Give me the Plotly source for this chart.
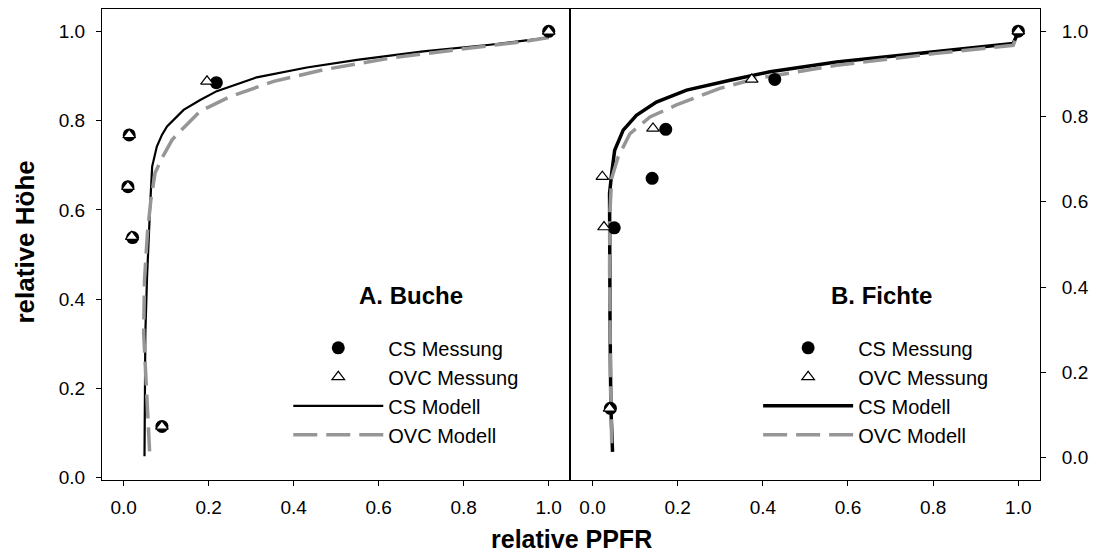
import plotly.graph_objects as go

# ---------------- data ----------------
# Panel A: Buche
buche_cs_meas_x = [0.013, 0.010, 0.021, 0.090, 0.218, 1.0]
buche_cs_meas_y = [0.768, 0.652, 0.538, 0.115, 0.885, 1.0]
buche_ovc_meas_x = [0.013, 0.010, 0.019, 0.090, 0.196, 1.0]
buche_ovc_meas_y = [0.768, 0.652, 0.540, 0.115, 0.888, 1.0]

buche_cs_mod_x = [0.049, 0.051, 0.055, 0.059, 0.063, 0.067, 0.078, 0.090, 0.102, 0.141,
                  0.180, 0.219, 0.313, 0.431, 0.549, 0.705, 0.862, 1.0]
buche_cs_mod_y = [0.048, 0.324, 0.450, 0.548, 0.623, 0.697, 0.742, 0.768, 0.787, 0.824,
                  0.846, 0.866, 0.897, 0.919, 0.936, 0.955, 0.970, 0.986]
buche_ovc_mod_x = [0.061, 0.055, 0.050, 0.047, 0.049, 0.056, 0.064, 0.074, 0.090, 0.114,
                   0.133, 0.180, 0.251, 0.353, 0.470, 0.627, 0.784, 0.940, 1.0]
buche_ovc_mod_y = [0.059, 0.175, 0.250, 0.325, 0.443, 0.549, 0.623, 0.683, 0.716, 0.757,
                   0.776, 0.821, 0.854, 0.888, 0.914, 0.940, 0.959, 0.977, 0.986]

# Panel B: Fichte
fichte_cs_meas_x = [0.428, 0.172, 0.140, 0.051, 0.042, 1.0]
fichte_cs_meas_y = [0.887, 0.770, 0.655, 0.539, 0.116, 1.0]
fichte_ovc_meas_x = [0.374, 0.142, 0.023, 0.027, 0.040, 1.0]
fichte_ovc_meas_y = [0.887, 0.772, 0.659, 0.541, 0.116, 1.0]

fichte_cs_mod_x = [0.047, 0.043, 0.041, 0.039, 0.040, 0.045, 0.052, 0.072, 0.103, 0.150,
                   0.221, 0.323, 0.417, 0.573, 0.730, 0.887, 0.988, 1.0]
fichte_cs_mod_y = [0.014, 0.120, 0.330, 0.541, 0.620, 0.667, 0.721, 0.768, 0.803, 0.834,
                   0.862, 0.885, 0.905, 0.928, 0.944, 0.959, 0.971, 0.998]
fichte_ovc_mod_x = [0.045, 0.042, 0.040, 0.041, 0.045, 0.060, 0.088, 0.135, 0.197, 0.299,
                    0.385, 0.573, 0.808, 0.988, 1.0]
fichte_ovc_mod_y = [0.034, 0.200, 0.450, 0.580, 0.655, 0.705, 0.760, 0.799, 0.827, 0.866,
                    0.889, 0.920, 0.948, 0.967, 0.998]

tick_vals = [0.0, 0.2, 0.4, 0.6, 0.8, 1.0]
tick_text = ["0.0", "0.2", "0.4", "0.6", "0.8", "1.0"]
series_names = ["CS Messung", "OVC Messung", "CS Modell", "OVC Modell"]
panel_labels = ["A. Buche", "B. Fichte"]
x_title = "relative PPFR"
y_title = "relative Höhe"

# ---------------- styling ----------------
FONT = "Liberation Sans, Arial, sans-serif"
GRAY = "rgb(150,150,150)"
DASH = "24px,9px"

fig = go.Figure()


def add_panel(xa, ya, leg, cs_mx, cs_my, ovc_mx, ovc_my, cs_lx, cs_ly, ovc_lx, ovc_ly, cs_w):
    fig.add_trace(go.Scatter(x=cs_lx, y=cs_ly, mode="lines", name=series_names[2],
                             line=dict(color="black", width=cs_w),
                             xaxis=xa, yaxis=ya, legend=leg, legendrank=3))
    fig.add_trace(go.Scatter(x=ovc_lx, y=ovc_ly, mode="lines", name=series_names[3],
                             line=dict(color=GRAY, width=3.5, dash=DASH),
                             xaxis=xa, yaxis=ya, legend=leg, legendrank=4))
    fig.add_trace(go.Scatter(x=cs_mx, y=cs_my, mode="markers", name=series_names[0],
                             marker=dict(symbol="circle", size=13, color="black"),
                             xaxis=xa, yaxis=ya, legend=leg, legendrank=1))
    fig.add_trace(go.Scatter(x=ovc_mx, y=ovc_my, mode="markers", name=series_names[1],
                             marker=dict(symbol="triangle-up", size=11, color="white",
                                         line=dict(color="black", width=1.2)),
                             xaxis=xa, yaxis=ya, legend=leg, legendrank=2))


add_panel("x", "y", "legend", buche_cs_meas_x, buche_cs_meas_y, buche_ovc_meas_x, buche_ovc_meas_y,
          buche_cs_mod_x, buche_cs_mod_y, buche_ovc_mod_x, buche_ovc_mod_y, 2.2)
add_panel("x2", "y2", "legend2", fichte_cs_meas_x, fichte_cs_meas_y, fichte_ovc_meas_x, fichte_ovc_meas_y,
          fichte_cs_mod_x, fichte_cs_mod_y, fichte_ovc_mod_x, fichte_ovc_mod_y, 3.5)

split = 0.4989
axis_common = dict(showgrid=False, zeroline=False, showline=True, linecolor="black", linewidth=1,
                   mirror=True, ticks="outside", ticklen=5, tickwidth=1, tickcolor="black",
                   tickvals=tick_vals, ticktext=tick_text, automargin=False,
                   tickfont=dict(family=FONT, size=19, color="black"))

legend_common = dict(font=dict(family=FONT, size=20, color="black"), bgcolor="rgba(0,0,0,0)",
                     borderwidth=0, itemwidth=90, tracegroupgap=0, xanchor="left", yanchor="top",
                     itemclick=False)

fig.update_layout(
    width=1096, height=554, autosize=False,
    margin=dict(l=102, r=56, t=9, b=74, autoexpand=False),
    paper_bgcolor="white", plot_bgcolor="white",
    font=dict(family=FONT, color="black"),
    xaxis=dict(domain=[0, split], range=[-0.051, 1.05], anchor="y", ticklabelstandoff=5,
               **axis_common),
    yaxis=dict(domain=[0, 1], range=[-0.005, 1.05], anchor="x", side="left",
               ticklabelstandoff=7, **axis_common),
    xaxis2=dict(domain=[split, 1], range=[-0.053, 1.051], anchor="y2", ticklabelstandoff=5,
                **axis_common),
    yaxis2=dict(domain=[0, 1], range=[-0.052, 1.052], anchor="x2", side="right",
                ticklabelstandoff=12, **axis_common),
    legend=dict(x=0.1986, y=0.322, **legend_common),
    legend2=dict(x=0.6995, y=0.322, **legend_common),
    annotations=[
        dict(text=panel_labels[0], xref="x", yref="y", x=0.676, y=0.408, showarrow=False,
             font=dict(family=FONT, size=24, color="black", weight="bold")),
        dict(text=panel_labels[1], xref="x2", yref="y2", x=0.679, y=0.380, showarrow=False,
             font=dict(family=FONT, size=24, color="black", weight="bold")),
        dict(text=x_title, xref="paper", yref="paper", x=0.501, y=-0.1565, showarrow=False,
             xanchor="center", yanchor="bottom", borderpad=0,
             font=dict(family=FONT, size=25, color="black", weight="bold")),
        dict(text=y_title, xref="paper", yref="paper", x=-0.0817, y=0.505, showarrow=False,
             textangle=-90, xanchor="center", yanchor="middle",
             font=dict(family=FONT, size=26, color="black", weight="bold")),
    ],
)

page_css = ("document.documentElement.style.margin='0px';"
            "document.documentElement.style.overflow='hidden';"
            "document.body.style.margin='0px';"
            "document.body.style.overflow='hidden';")

fig.write_html("out.html", post_script=page_css,
               config={"displayModeBar": False, "responsive": False, "staticPlot": True})
